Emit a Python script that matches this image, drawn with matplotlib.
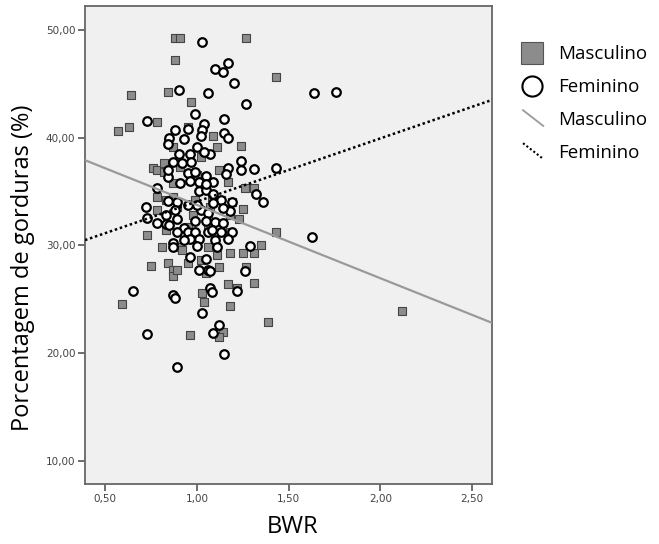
import matplotlib
matplotlib.use("Agg")
import matplotlib.pyplot as plt
import numpy as np
from matplotlib.lines import Line2D
from matplotlib.legend_handler import HandlerBase
from matplotlib.ticker import FuncFormatter

# Masculino (quadrados): BWR, % gordura
masc_bwr = [0.88, 0.91, 1.27, 0.88, 1.43, 0.84, 0.64, 0.97, 0.57, 0.63,
            0.78, 1.24, 1.09, 1.11, 0.76, 0.78, 0.82, 1.17, 1.26, 1.31,
            1.25, 1.43, 0.73, 0.83, 0.81, 0.91, 1.18, 1.31, 1.35, 0.75,
            0.84, 0.87, 0.87, 0.89, 0.95, 1.05, 1.12, 1.27, 1.03, 1.04,
            1.17, 1.22, 1.31, 0.59, 1.18, 1.39, 0.96, 1.14, 1.12, 2.12,
            0.95, 0.84, 0.91, 1.02, 1.12, 1.00, 0.83, 0.87, 0.99, 1.13,
            0.78, 0.89, 0.98, 1.07, 1.18, 1.23, 0.95, 1.06, 1.18, 0.92,
            1.06, 1.25, 1.02, 0.87, 0.82, 0.87, 0.78, 1.08, 1.19, 1.06,
            1.11]
masc_gord = [49.2, 49.2, 49.2, 47.2, 45.6, 44.2, 43.9, 43.3, 40.6, 41.0,
             41.4, 39.2, 40.1, 39.1, 37.2, 37.0, 37.6, 35.9, 35.3, 35.3,
             33.4, 31.2, 31.0, 31.4, 29.8, 29.8, 29.3, 29.3, 30.0, 28.1,
             28.4, 27.7, 27.2, 27.7, 28.4, 27.4, 28.0, 28.0, 25.6, 24.7,
             26.4, 26.0, 26.5, 24.6, 24.4, 22.9, 21.7, 22.0, 21.5, 23.9,
             41.0, 39.5, 37.3, 38.2, 37.0, 36.5, 34.2, 34.5, 34.2, 34.2,
             33.3, 33.6, 32.8, 33.6, 32.8, 32.4, 31.7, 31.7, 31.2, 29.6,
             29.8, 29.3, 28.6, 39.1, 36.8, 35.8, 34.5, 34.5, 34.0, 32.8,
             29.1]

# Feminino (circulos)
fem_bwr = [1.03, 0.90, 1.06, 1.10, 1.14, 1.17, 1.20, 1.27, 1.64, 1.76,
           0.73, 0.99, 1.15, 1.04, 1.15, 1.17, 0.88, 0.93, 0.85, 0.84,
           0.95, 1.03, 1.02, 1.00, 0.90, 0.96, 1.07, 1.04, 0.87, 0.92,
           0.97, 1.24, 1.24, 1.31, 1.43, 1.17, 1.16, 0.84, 0.91, 0.95,
           0.99, 1.01, 1.05, 1.09, 0.78, 1.01, 1.05, 1.32, 1.36, 0.84,
           0.89, 1.09, 1.13, 1.19, 1.09, 0.72, 0.73, 0.83, 0.88, 1.02,
           1.06, 1.18, 0.78, 0.83, 0.89, 1.10, 1.14, 0.93, 0.95, 0.99,
           1.06, 1.19, 1.17, 0.87, 0.96, 1.01, 1.10, 1.11, 1.00, 1.29,
           0.87, 0.96, 1.63, 1.05, 1.01, 1.06, 1.07, 1.26, 0.65, 0.87,
           0.88, 1.07, 1.08, 1.22, 1.03, 1.12, 1.09, 0.73, 1.15, 0.89,
           1.14, 1.08, 1.13, 0.84, 0.96, 1.05, 0.95, 1.00, 0.85, 0.99,
           1.05, 0.89, 0.93]
fem_gord = [48.9, 44.4, 44.1, 46.4, 46.1, 46.9, 45.1, 43.1, 44.1, 44.2,
            41.5, 42.2, 41.7, 41.3, 40.4, 40.0, 40.7, 39.9, 40.0, 39.4,
            40.8, 40.7, 40.1, 39.1, 38.5, 38.5, 38.5, 38.7, 37.7, 37.6,
            37.7, 37.8, 37.0, 37.1, 37.2, 37.2, 36.6, 36.3, 35.8, 36.7,
            36.8, 35.9, 36.4, 35.9, 35.3, 35.0, 35.1, 34.8, 34.0, 34.1,
            34.0, 34.8, 34.2, 34.0, 33.9, 33.6, 32.5, 32.8, 33.3, 33.3,
            33.0, 33.2, 32.1, 32.0, 32.4, 32.2, 32.1, 31.6, 31.2, 31.2,
            31.2, 31.2, 30.6, 30.2, 30.6, 30.6, 30.5, 29.8, 29.9, 29.9,
            29.8, 28.9, 30.8, 28.7, 27.7, 27.7, 27.6, 27.6, 25.8, 25.4,
            25.1, 26.0, 25.7, 25.8, 23.7, 22.6, 21.9, 21.8, 19.9, 18.7,
            33.5, 31.4, 31.2, 37.0, 36.0, 35.7, 33.7, 33.7, 31.9, 32.3,
            32.3, 31.2, 30.5]

# Retas de ajuste (intercepto, inclinacao)
reta_masc = (40.55, -6.8)
reta_fem = (28.2, 5.86)

grupos = ["Masculino", "Feminino"]

xlim = (0.39, 2.61)
ylim = (7.85, 52.2)


class DiagonalHandler(HandlerBase):
    def create_artists(self, legend, orig_handle, xdescent, ydescent,
                       width, height, fontsize, trans):
        x0, y0 = -xdescent, -ydescent
        line = Line2D([x0 + 0.1 * width, x0 + width],
                      [y0 + height * 1.15, y0 - height * 0.05])
        line.update_from(orig_handle)
        line.set_transform(trans)
        return [line]


fig = plt.figure(figsize=(6.59, 5.44), dpi=100)
ax = fig.add_axes([0.129, 0.110, 0.618, 0.879])
ax.set_facecolor('#f0f0f0')

ax.scatter(masc_bwr, masc_gord, marker='s', s=36, facecolor='#8c8c8c',
           edgecolor='#444444', linewidths=0.8, zorder=3)
ax.scatter(fem_bwr, fem_gord, marker='o', s=38, facecolor='white',
           edgecolor='black', linewidths=1.6, zorder=4)

xs = np.array(xlim)
ax.plot(xs, reta_masc[0] + reta_masc[1] * xs, color='#9a9a9a', lw=1.6, zorder=5)
ax.plot(xs, reta_fem[0] + reta_fem[1] * xs, color='black', lw=1.8,
        linestyle=(0, (1, 1.1)), zorder=5)

ax.set_xlim(*xlim)
ax.set_ylim(*ylim)
ax.set_xticks([0.5, 1.0, 1.5, 2.0, 2.5])
ax.set_yticks([10, 20, 30, 40, 50])
fmt = FuncFormatter(lambda v, p: f"{v:.2f}".replace('.', ','))
ax.xaxis.set_major_formatter(fmt)
ax.yaxis.set_major_formatter(fmt)
ax.tick_params(axis='both', labelsize=7.5, labelcolor='#444444', color='#555555',
               length=5, width=1.2, pad=2)

for sp in ax.spines.values():
    sp.set_color('#666666')
    sp.set_linewidth(1.3)

ax.set_xlabel('BWR', fontsize=17, family='Open Sans')
ax.set_ylabel('Porcentagem de gorduras (%)', fontsize=17, family='Open Sans')
ax.xaxis.set_label_coords(0.509, -0.065)
ax.yaxis.set_label_coords(-0.122, 0.452)

h_masc = Line2D([], [], marker='s', linestyle='none', markersize=15.5,
                markerfacecolor='#8c8c8c', markeredgecolor='#555555',
                markeredgewidth=0.8)
h_fem = Line2D([], [], marker='o', linestyle='none', markersize=14.5,
               markerfacecolor='white', markeredgecolor='black',
               markeredgewidth=1.5)
h_rm = Line2D([], [], color='#9a9a9a', lw=1.3)
h_rf = Line2D([], [], color='black', lw=1.5, linestyle=(0, (1, 1.1)))

leg = fig.legend([h_masc, h_fem, h_rm, h_rf], grupos + grupos,
                 loc='upper left', bbox_to_anchor=(0.776, 0.934),
                 frameon=False, handlelength=1.2, handletextpad=0.8,
                 labelspacing=0.8, borderpad=0,
                 prop={'family': 'Open Sans', 'size': 13.5},
                 handler_map={h_rm: DiagonalHandler(), h_rf: DiagonalHandler()})

fig.savefig('out.png', dpi=100)
